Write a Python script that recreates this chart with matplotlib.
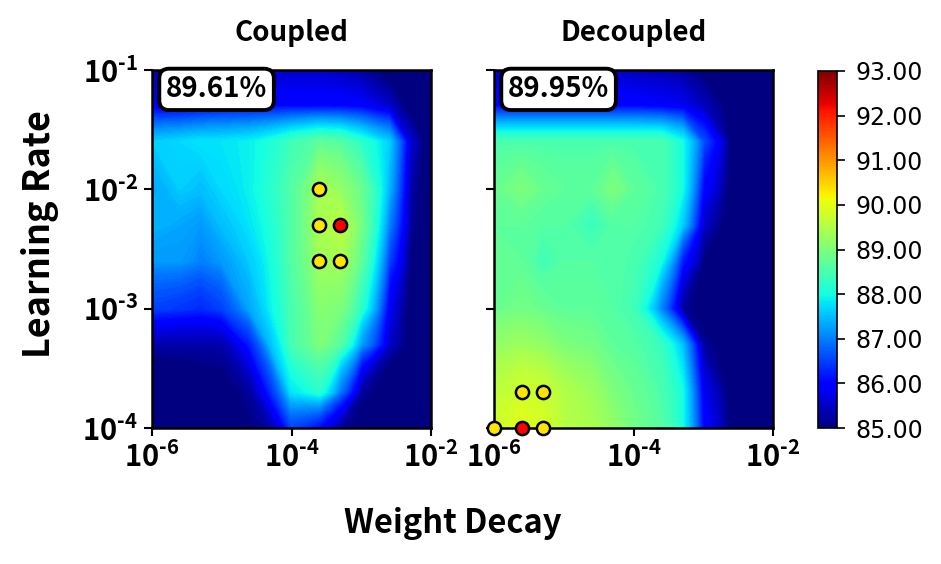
import numpy as np
import matplotlib
matplotlib.use("Agg")
import matplotlib.pyplot as plt
from matplotlib.colors import Normalize
from matplotlib.cm import ScalarMappable

plt.rcParams['font.family'] = ['Noto Sans CJK KR', 'DejaVu Sans']
plt.rcParams['font.weight'] = 'bold'
plt.rcParams['mathtext.fontset'] = 'custom'
plt.rcParams['mathtext.rm'] = 'Noto Sans CJK KR:bold'
plt.rcParams['mathtext.bf'] = 'Noto Sans CJK KR:bold'
plt.rcParams['mathtext.default'] = 'bf'

# ---------------- data ----------------
weight_decay = [1e-6, 2.5e-6, 5e-6, 1e-5, 2.5e-5, 5e-5, 1e-4, 2.5e-4, 5e-4, 1e-3, 2.5e-3, 5e-3, 1e-2]
learning_rate = [1e-4, 2e-4, 5e-4, 1e-3, 2.5e-3, 5e-3, 1e-2, 2.5e-2, 5e-2, 1e-1]

# rows: learning rate (low -> high), columns: weight decay (low -> high)
acc_coupled = [
    [84.5, 84.5, 84.6, 84.8, 85.0, 85.3, 86.5, 86.0, 85.2, 84.8, 84.5, 84.5, 84.5],
    [84.6, 84.7, 84.8, 84.9, 85.2, 86.3, 87.8, 88.2, 86.9, 85.2, 84.6, 84.5, 84.5],
    [85.3, 85.3, 85.3, 85.3, 86.2, 87.5, 88.5, 89.0, 88.6, 87.2, 85.5, 84.8, 84.5],
    [86.5, 86.4, 86.3, 86.5, 87.3, 87.9, 88.5, 89.1, 89.0, 88.2, 85.8, 84.8, 84.5],
    [87.2, 87.2, 87.0, 87.2, 87.6, 88.0, 88.6, 89.35, 89.4, 88.7, 86.5, 85.0, 84.5],
    [87.4, 87.3, 87.2, 87.5, 87.8, 88.1, 88.6, 89.45, 89.61, 88.9, 87.0, 85.2, 84.5],
    [87.3, 87.6, 87.5, 87.7, 87.9, 88.2, 88.6, 89.4, 89.2, 88.8, 87.4, 85.3, 84.5],
    [87.6, 87.7, 87.8, 87.8, 87.9, 88.1, 88.4, 88.7, 88.6, 88.2, 87.6, 85.6, 84.5],
    [85.8, 85.8, 85.9, 86.0, 86.0, 86.0, 86.0, 86.0, 86.0, 85.9, 85.5, 84.8, 84.5],
    [85.3, 85.4, 85.4, 85.5, 85.5, 85.5, 85.5, 85.5, 85.4, 85.2, 84.8, 84.5, 84.5],
]
acc_decoupled = [
    [89.8, 89.95, 89.85, 89.55, 89.4, 89.2, 88.9, 88.6, 88.0, 86.0, 84.9, 84.5, 84.5],
    [89.6, 89.8, 89.75, 89.5, 89.3, 89.0, 88.8, 88.5, 88.0, 85.8, 84.8, 84.5, 84.5],
    [89.2, 89.3, 89.2, 89.0, 88.9, 88.7, 88.6, 88.3, 87.5, 85.2, 84.6, 84.5, 84.5],
    [88.8, 88.9, 88.8, 88.7, 88.7, 88.6, 88.4, 87.0, 85.2, 84.7, 84.5, 84.5, 84.5],
    [88.8, 88.7, 88.4, 88.6, 88.6, 88.6, 88.5, 88.0, 86.2, 85.0, 84.5, 84.5, 84.5],
    [88.7, 88.7, 88.6, 88.6, 88.3, 88.6, 88.6, 88.4, 87.6, 85.5, 84.6, 84.5, 84.5],
    [88.8, 89.0, 88.8, 88.7, 88.7, 89.0, 88.7, 88.5, 88.0, 86.0, 84.8, 84.5, 84.5],
    [88.5, 88.5, 88.5, 88.5, 88.5, 88.5, 88.5, 88.5, 88.0, 86.6, 84.9, 84.5, 84.5],
    [86.0, 86.0, 86.0, 86.0, 86.0, 86.0, 86.0, 85.9, 85.8, 85.4, 84.8, 84.5, 84.5],
    [85.5, 85.5, 85.5, 85.5, 85.5, 85.5, 85.4, 85.3, 85.2, 84.9, 84.6, 84.5, 84.5],
]

# top-5 configurations (best first)
top_coupled_wd = [5e-4, 2.5e-4, 2.5e-4, 2.5e-4, 5e-4]
top_coupled_lr = [5e-3, 1e-2, 5e-3, 2.5e-3, 2.5e-3]
top_decoupled_wd = [2.5e-6, 1e-6, 5e-6, 2.5e-6, 5e-6]
top_decoupled_lr = [1e-4, 1e-4, 1e-4, 2e-4, 2e-4]

panel_titles = ["Coupled", "Decoupled"]
best_labels = ["89.61%", "89.95%"]
x_ticks = [1e-6, 1e-4, 1e-2]
x_ticklabels = [r"$10^{\text{-6}}$", r"$10^{\text{-4}}$", r"$10^{\text{-2}}$"]
y_ticks = [1e-4, 1e-3, 1e-2, 1e-1]
y_ticklabels = [r"$10^{\text{-4}}$", r"$10^{\text{-3}}$", r"$10^{\text{-2}}$", r"$10^{\text{-1}}$"]
cbar_ticks = [85, 86, 87, 88, 89, 90, 91, 92, 93]
vmin, vmax = 85, 93

# ---------------- figure ----------------
W, H = 941, 564
fig = plt.figure(figsize=(W / 100, H / 100), dpi=100)

def fr(x0, y0, x1, y1):
    return [x0 / W, 1 - y1 / H, (x1 - x0) / W, (y1 - y0) / H]

ax1 = fig.add_axes(fr(152, 70, 431, 428))
ax2 = fig.add_axes(fr(494, 70, 773, 428))
cax = fig.add_axes(fr(818, 71, 837, 428))

levels = np.linspace(vmin, vmax, 161)
X, Y = np.meshgrid(weight_decay, learning_rate)
datasets = [np.array(acc_coupled), np.array(acc_decoupled)]
tops = [(top_coupled_wd, top_coupled_lr), (top_decoupled_wd, top_decoupled_lr)]

for i, ax in enumerate([ax1, ax2]):
    cs = ax.contourf(X, Y, datasets[i], levels=levels, cmap='jet', extend='both',
                     vmin=vmin, vmax=vmax)
    cs.set_edgecolor('face')
    cs.set_linewidth(0.6)
    ax.set_xscale('log')
    ax.set_yscale('log')
    ax.set_xlim(1e-6, 1e-2)
    ax.set_ylim(1e-4, 1e-1)
    wd, lr = tops[i]
    ax.plot(wd[1:], lr[1:], 'o', ms=9.5, mfc='#FFE600', mec='black', mew=1.8,
            ls='none', clip_on=False, zorder=5)
    ax.plot(wd[:1], lr[:1], 'o', ms=9.5, mfc='#FF0000', mec='black', mew=1.8,
            ls='none', clip_on=False, zorder=6)
    ax.set_xticks(x_ticks)
    ax.set_xticklabels(x_ticklabels, fontsize=21)
    ax.minorticks_off()
    ax.set_yticks(y_ticks)
    if i == 0:
        ax.set_yticklabels(y_ticklabels, fontsize=21)
    else:
        ax.set_yticklabels([])
    ax.tick_params(axis='both', which='major', length=6, width=1.5, pad=4)
    ax.tick_params(axis='both', which='minor', length=0)
    for sp in ax.spines.values():
        sp.set_linewidth(1.8)
        sp.set_zorder(4)
    ax.set_title(panel_titles[i], fontsize=20, fontweight='bold', pad=21)
    ax.text(0.05, 0.985, best_labels[i], transform=ax.transAxes, fontsize=20,
            fontweight='bold', va='top', ha='left', zorder=10,
            bbox=dict(boxstyle='round,pad=0.24,rounding_size=0.35', fc='white',
                      ec='black', lw=2.8))

sm = ScalarMappable(norm=Normalize(vmin=vmin, vmax=vmax), cmap='jet')
cb = fig.colorbar(sm, cax=cax, ticks=cbar_ticks, format='%.2f')
cb.ax.tick_params(labelsize=17, length=6, width=1.2, pad=7)
for t in cb.ax.get_yticklabels():
    t.set_family('DejaVu Sans')
    t.set_fontweight('normal')
cb.outline.set_linewidth(1.2)

fig.text(453 / W, 1 - 524 / H, "Weight Decay", fontsize=23.5, fontweight='bold',
         ha='center', va='center')
fig.text(40 / W, 1 - 234 / H, "Learning Rate", fontsize=26, fontweight='bold',
         ha='center', va='center', rotation=90)

fig.savefig("out.png", dpi=100)
